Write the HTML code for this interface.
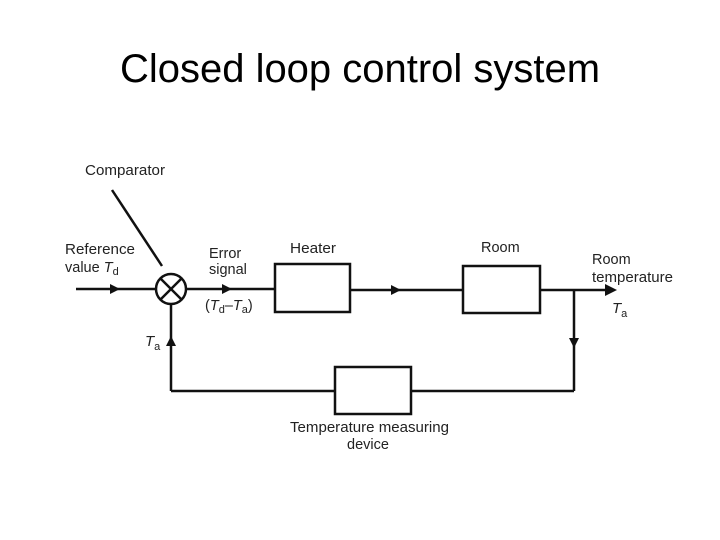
<!DOCTYPE html>
<html><head><meta charset="utf-8"><style>
html,body{margin:0;padding:0;background:#fff;}
svg{display:block;}
text{font-family:"Liberation Sans",Arial,sans-serif;fill:#222;}
</style></head><body>
<svg width="720" height="540" viewBox="0 0 720 540" xmlns="http://www.w3.org/2000/svg">
<text x="120" y="82" font-size="40" textLength="480" lengthAdjust="spacingAndGlyphs" style="fill:#000">Closed loop control system</text>
<g stroke="#111" stroke-width="2.5" fill="none">
<line x1="112" y1="190" x2="162" y2="266"/>
<line x1="76" y1="289" x2="156" y2="289"/>
<circle cx="171" cy="289" r="15"/>
<line x1="160.5" y1="278.5" x2="181.5" y2="299.5"/>
<line x1="181.5" y1="278.5" x2="160.5" y2="299.5"/>
<line x1="186" y1="289" x2="275" y2="289"/>
<rect x="275" y="264" width="75" height="48"/>
<line x1="350" y1="290" x2="463" y2="290"/>
<rect x="463" y="266" width="77" height="47"/>
<line x1="540" y1="290" x2="608" y2="290"/>
<line x1="574" y1="290" x2="574" y2="391"/>
<line x1="574" y1="391" x2="411" y2="391"/>
<rect x="335" y="367" width="76" height="47"/>
<line x1="335" y1="391" x2="171" y2="391"/>
<line x1="171" y1="391" x2="171" y2="304"/>
</g>
<g fill="#111">
<polygon points="110,284 120,289 110,294"/>
<polygon points="222,284 232,289 222,294"/>
<polygon points="391,285 401,290 391,295"/>
<polygon points="605,284 617,290 605,296"/>
<polygon points="569,338 574,348 579,338"/>
<polygon points="166,346 171,336 176,346"/>
</g>
<g font-size="14.5">
<text x="85" y="175" textLength="80" lengthAdjust="spacingAndGlyphs">Comparator</text>
<text x="65" y="254" textLength="70" lengthAdjust="spacingAndGlyphs">Reference</text>
<text x="65" y="272">value <tspan font-style="italic">T</tspan><tspan font-size="11" dy="3">d</tspan></text>
<text x="209" y="258">Error</text>
<text x="209" y="274">signal</text>
<text x="205" y="310">(<tspan font-style="italic">T</tspan><tspan font-size="11" dy="3">d</tspan><tspan dy="-3">–</tspan><tspan font-style="italic">T</tspan><tspan font-size="11" dy="3">a</tspan><tspan dy="-3">)</tspan></text>
<text x="290" y="253" textLength="46" lengthAdjust="spacingAndGlyphs">Heater</text>
<text x="481" y="252">Room</text>
<text x="592" y="264">Room</text>
<text x="592" y="282" textLength="81" lengthAdjust="spacingAndGlyphs">temperature</text>
<text x="612" y="313" font-style="italic" font-size="15">T<tspan font-style="normal" font-size="11" dy="4">a</tspan></text>
<text x="145" y="346" font-style="italic" font-size="15">T<tspan font-style="normal" font-size="11" dy="4">a</tspan></text>
<text x="290" y="432" textLength="159" lengthAdjust="spacingAndGlyphs">Temperature measuring</text>
<text x="347" y="449">device</text>
</g>
</svg>
</body></html>
